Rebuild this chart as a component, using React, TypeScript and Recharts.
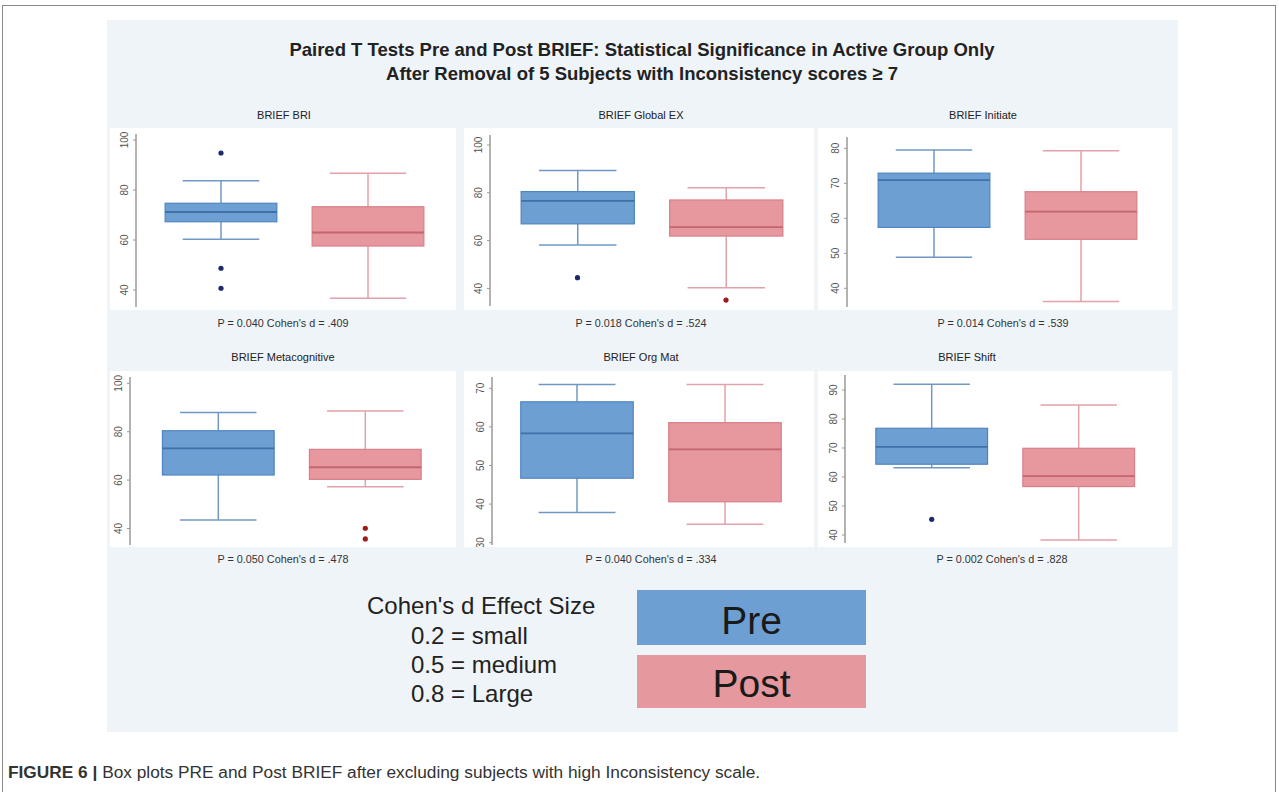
import React from 'react';
import { ComposedChart, Bar, Scatter, XAxis, YAxis } from 'recharts';

const categories = ['Pre', 'Post'];

// five-number summaries: [min, q1, median, q3, max]
const briPre = [60.3, 67.3, 71.2, 74.7, 83.7];
const briPost = [36.7, 57.6, 63.0, 73.3, 86.7];
const briOutPre = [94.8, 48.7, 40.7];
const briOutPost: number[] = [];

const gecPre = [58.2, 67.0, 76.6, 80.5, 89.3];
const gecPost = [40.3, 61.9, 65.6, 77.0, 82.1];
const gecOutPre = [44.5];
const gecOutPost = [35.1];

const iniPre = [48.9, 57.4, 70.9, 72.9, 79.5];
const iniPost = [36.2, 54.0, 61.9, 67.6, 79.3];
const iniOutPre: number[] = [];
const iniOutPost: number[] = [];

const metPre = [43.5, 62.1, 73.1, 80.4, 87.9];
const metPost = [57.3, 60.3, 65.3, 72.7, 88.6];
const metOutPre: number[] = [];
const metOutPost = [40.1, 35.7];

const orgPre = [37.8, 46.7, 58.3, 66.5, 71.0];
const orgPost = [34.8, 40.6, 54.2, 61.1, 71.0];
const orgOutPre: number[] = [];
const orgOutPost: number[] = [];

const shfPre = [63.2, 64.4, 70.4, 76.8, 92.0];
const shfPost = [38.3, 56.7, 60.3, 69.9, 84.8];
const shfOutPre = [45.4];
const shfOutPost: number[] = [];

const panelTitles = ['BRIEF BRI', 'BRIEF Global EX', 'BRIEF Initiate', 'BRIEF Metacognitive', 'BRIEF Org Mat', 'BRIEF Shift'];
const statLabels = [
  "P = 0.040 Cohen's d = .409",
  "P = 0.018 Cohen's d = .524",
  "P = 0.014 Cohen's d = .539",
  "P = 0.050 Cohen's d = .478",
  "P = 0.040 Cohen's d = .334",
  "P = 0.002 Cohen's d = .828",
];
const ticks1 = [40, 60, 80, 100];
const ticks2 = [40, 60, 80, 100];
const ticks3 = [40, 50, 60, 70, 80];
const ticks4 = [40, 60, 80, 100];
const ticks5 = [30, 40, 50, 60, 70];
const ticks6 = [40, 50, 60, 70, 80, 90];

const effectTitle = "Cohen's d Effect Size";
const effectLines = ["0.2 = small", "0.5 = medium", "0.8 = Large"];

const FONT = '"Liberation Sans", Arial, sans-serif';

const PAL: Record<string, any> = {
  Pre: { fill: '#6d9fd3', edge: '#4f86c2', median: '#3f70a8', whisker: '#7198c4', out: '#1b2a6b' },
  Post: { fill: '#e7979e', edge: '#d87f88', median: '#c4646e', whisker: '#e2a2a9', out: '#9c1c1c' },
};

function buildRows(pre: number[], post: number[]) {
  return categories.map((cat, i) => {
    const s = i === 0 ? pre : post;
    return { cat, min: s[0], q1: s[1], med: s[2], q3: s[3], max: s[4] };
  });
}
function buildOut(pre: number[], post: number[]) {
  return [
    ...pre.map((v) => ({ cat: categories[0], v })),
    ...post.map((v) => ({ cat: categories[1], v })),
  ];
}

function BoxShape(props: any) {
  const { x, y, width, height, payload } = props;
  if (!payload || height == null) return null;
  const { min, q1, med, q3, max, cat } = payload;
  const ppu = height / (max - min);
  const Y = (v: number) => y + (max - v) * ppu;
  const cx = x + width / 2;
  const bw = width * 0.76;
  const cw = width * 0.52;
  const p = PAL[cat];
  return (
    <g>
      <line x1={cx} x2={cx} y1={Y(max)} y2={Y(q3)} stroke={p.whisker} strokeWidth={1.5} />
      <line x1={cx} x2={cx} y1={Y(q1)} y2={Y(min)} stroke={p.whisker} strokeWidth={1.5} />
      <line x1={cx - cw / 2} x2={cx + cw / 2} y1={Y(max)} y2={Y(max)} stroke={p.whisker} strokeWidth={1.5} />
      <line x1={cx - cw / 2} x2={cx + cw / 2} y1={Y(min)} y2={Y(min)} stroke={p.whisker} strokeWidth={1.5} />
      <rect x={cx - bw / 2} y={Y(q3)} width={bw} height={Y(q1) - Y(q3)} fill={p.fill} stroke={p.edge} strokeWidth={1.2} />
      <line x1={cx - bw / 2} x2={cx + bw / 2} y1={Y(med)} y2={Y(med)} stroke={p.median} strokeWidth={1.8} />
    </g>
  );
}

function OutShape(props: any) {
  const { cx, cy, payload } = props;
  if (cx == null || cy == null || !payload) return null;
  return <circle cx={cx} cy={cy} r={2.6} fill={PAL[payload.cat].out} />;
}

function RotTick(props: any) {
  const { x, y, payload } = props;
  return (
    <text x={x - 3} y={y} transform={`rotate(-90, ${x - 3}, ${y})`} textAnchor="middle" fontSize={10} fill="#555" fontFamily={FONT}>
      {payload.value}
    </text>
  );
}

type PanelProps = {
  left: number; top: number; width: number; height: number;
  axisX: number; plotTop: number; plotBottom: number; plotRight: number;
  padL: number; padR: number; domain: [number, number]; ticks: number[];
  rows: any[]; outs: any[];
};

function Panel(p: PanelProps) {
  return (
    <div style={{ position: 'absolute', left: p.left, top: p.top, width: p.width, height: p.height, background: '#ffffff' }}>
      <ComposedChart
        width={p.width}
        height={p.height}
        data={p.rows}
        barCategoryGap={0}
        barGap={0}
        margin={{ top: p.plotTop - p.top, bottom: p.top + p.height - p.plotBottom, left: 0, right: p.left + p.width - p.plotRight }}
      >
        <XAxis dataKey="cat" type="category" hide allowDuplicatedCategory={false} padding={{ left: p.padL, right: p.padR }} />
        <YAxis
          type="number"
          domain={p.domain}
          allowDataOverflow
          ticks={p.ticks}
          interval={0}
          width={p.axisX - p.left}
          tickSize={3}
          tickMargin={2}
          stroke="#9a9a9a"
          axisLine={{ stroke: '#9a9a9a', strokeWidth: 1.5 }}
          tickLine={{ stroke: '#9a9a9a' }}
          tick={<RotTick />}
        />
        <Bar dataKey={(d: any) => [d.min, d.max]} shape={<BoxShape />} isAnimationActive={false} />
        <Scatter data={p.outs} dataKey="v" shape={<OutShape />} isAnimationActive={false} />
      </ComposedChart>
    </div>
  );
}

const txt = (style: React.CSSProperties): React.CSSProperties => ({
  position: 'absolute', fontFamily: FONT, whiteSpace: 'nowrap', ...style,
});

function CenterText({ x, y, size, children, weight, color }: any) {
  return (
    <div style={txt({ left: x - 450, width: 900, top: y - size * 0.6, textAlign: 'center', fontSize: size, lineHeight: `${size * 1.2}px`, fontWeight: weight || 'normal', color: color || '#222' })}>
      {children}
    </div>
  );
}

export default function App() {
  const panels: PanelProps[] = [
    { left: 110, top: 128, width: 346, height: 182, axisX: 136, plotTop: 134, plotBottom: 307, plotRight: 452, padL: 11.5, padR: 10.5, domain: [33.2, 102.4], ticks: ticks1, rows: buildRows(briPre, briPost), outs: buildOut(briOutPre, briOutPost) },
    { left: 464, top: 128, width: 350, height: 182, axisX: 490, plotTop: 135, plotBottom: 306, plotRight: 810, padL: 13.25, padR: 9.75, domain: [32.64, 104.18], ticks: ticks2, rows: buildRows(gecPre, gecPost), outs: buildOut(gecOutPre, gecOutPost) },
    { left: 818, top: 128, width: 354, height: 182, axisX: 847, plotTop: 137, plotBottom: 307, plotRight: 1167, padL: 13.5, padR: 12.5, domain: [34.66, 83.23], ticks: ticks3, rows: buildRows(iniPre, iniPost), outs: buildOut(iniOutPre, iniOutPost) },
    { left: 110, top: 371, width: 346, height: 176, axisX: 130, plotTop: 377, plotBottom: 545, plotRight: 452, padL: 14.8, padR: 13.2, domain: [33.18, 102.6], ticks: ticks4, rows: buildRows(metPre, metPost), outs: buildOut(metOutPre, metOutPost) },
    { left: 464, top: 371, width: 350, height: 176, axisX: 492, plotTop: 377, plotBottom: 545, plotRight: 810, padL: 11, padR: 11, domain: [29.4, 72.93], ticks: ticks5, rows: buildRows(orgPre, orgPost), outs: buildOut(orgOutPre, orgOutPost) },
    { left: 818, top: 371, width: 354, height: 176, axisX: 845, plotTop: 375, plotBottom: 543, plotRight: 1167, padL: 13.2, padR: 14.8, domain: [37.24, 95.17], ticks: ticks6, rows: buildRows(shfPre, shfPost), outs: buildOut(shfOutPre, shfOutPost) },
  ];
  const titlePos = [[284, 116], [641, 116], [983, 116], [283, 358], [641, 358], [967, 358]];
  const statPos = [[283, 323], [641, 323], [1003, 323], [283, 559], [651, 559], [1002, 559]];

  return (
    <div style={{ position: 'absolute', left: 0, top: 0, width: 1279, height: 792, background: '#ffffff', overflow: 'hidden' }}>
      {/* outer frame */}
      <div style={{ position: 'absolute', left: 2, top: 5, width: 1274, height: 800, border: '1.5px solid #8a8a8a', boxSizing: 'border-box' }} />
      {/* light panel */}
      <div style={{ position: 'absolute', left: 107, top: 20, width: 1071, height: 712, background: '#eff4f8' }} />

      <CenterText x={642} y={50} size={18.5} weight="bold" color="#222">
        Paired T Tests Pre and Post BRIEF: Statistical Significance in Active Group Only
      </CenterText>
      <CenterText x={642} y={74} size={18.5} weight="bold" color="#222">
        After Removal of 5 Subjects with Inconsistency scores ≥ 7
      </CenterText>

      {panels.map((p, i) => (
        <Panel key={i} {...p} />
      ))}
      {panelTitles.map((t, i) => (
        <CenterText key={'t' + i} x={titlePos[i][0]} y={titlePos[i][1]} size={11} color="#222">{t}</CenterText>
      ))}
      {statLabels.map((t, i) => (
        <CenterText key={'s' + i} x={statPos[i][0]} y={statPos[i][1]} size={10.8} color="#333">{t}</CenterText>
      ))}

      {/* effect size legend */}
      <div style={txt({ left: 367, top: 591, fontSize: 24, lineHeight: '30px', color: '#222' })}>{effectTitle}</div>
      {effectLines.map((t, i) => (
        <div key={'e' + i} style={txt({ left: 411, top: 621 + i * 29, fontSize: 24, lineHeight: '30px', color: '#222' })}>{t}</div>
      ))}
      <div style={{ position: 'absolute', left: 637, top: 590, width: 229, height: 55, boxSizing: 'border-box', paddingTop: 6, background: PAL.Pre.fill, display: 'flex', alignItems: 'center', justifyContent: 'center', fontFamily: FONT, fontSize: 39, color: '#1a1a1a' }}>{categories[0]}</div>
      <div style={{ position: 'absolute', left: 637, top: 655, width: 229, height: 53, boxSizing: 'border-box', paddingTop: 4, background: '#e5989e', display: 'flex', alignItems: 'center', justifyContent: 'center', fontFamily: FONT, fontSize: 39, color: '#1a1a1a' }}>{categories[1]}</div>

      {/* caption */}
      <div style={txt({ left: 8, top: 762, fontSize: 17.3, lineHeight: '21px', color: '#333' })}>
        <b>FIGURE 6 |</b> Box plots PRE and Post BRIEF after excluding subjects with high Inconsistency scale.
      </div>
    </div>
  );
}
